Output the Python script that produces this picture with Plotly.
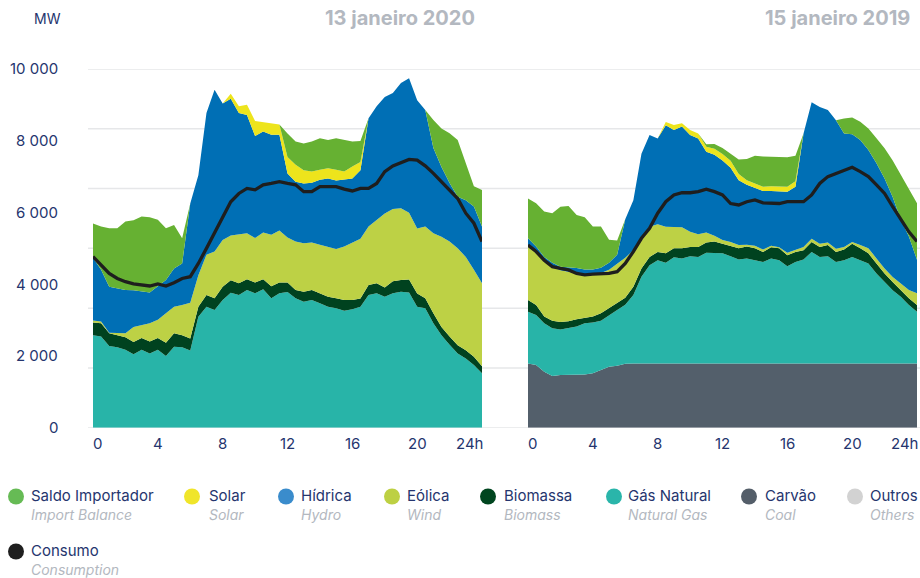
import plotly.graph_objects as go

# ---------------- data ----------------
hours = [0, 0.5, 1, 1.5, 2, 2.5, 3, 3.5, 4, 4.5, 5, 5.5, 6, 6.5, 7, 7.5, 8, 8.5, 9, 9.5,
         10, 10.5, 11, 11.5, 12, 12.5, 13, 13.5, 14, 14.5, 15, 15.5, 16, 16.5, 17, 17.5,
         18, 18.5, 19, 19.5, 20, 20.5, 21, 21.5, 22, 22.5, 23, 23.5, 24]

# 13 janeiro 2020 (MW)
gas_2020 = [2580, 2540, 2280, 2240, 2170, 2050, 2170, 2070, 2170, 2000,
            2260, 2240, 2150, 3090, 3370, 3280, 3560, 3760, 3700, 3840,
            3750, 3860, 3610, 3750, 3780, 3610, 3510, 3560, 3470, 3370,
            3330, 3260, 3300, 3370, 3700, 3750, 3650, 3750, 3790, 3770,
            3370, 3330, 2910, 2580, 2310, 2070, 1930, 1750, 1520]
biomass_2020 = [350, 370, 350, 340, 350, 340, 330, 330, 330, 370,
                370, 340, 340, 280, 330, 330, 370, 350, 330, 300,
                300, 280, 330, 300, 270, 230, 280, 280, 280, 280,
                280, 300, 260, 230, 280, 280, 260, 330, 330, 360,
                370, 280, 280, 230, 230, 230, 230, 230, 190]
wind_2020 = [60, 50, 20, 50, 110, 420, 350, 510, 510, 820,
             740, 840, 990, 880, 1120, 1300, 1300, 1250, 1350, 1280,
             1240, 1300, 1440, 1450, 1250, 1350, 1350, 1320, 1350, 1390,
             1370, 1490, 1600, 1670, 1630, 1770, 2060, 2020, 2000, 1860,
             1810, 2000, 2230, 2510, 2650, 2700, 2600, 2420, 2320]
hydro_2020 = [1750, 1440, 1280, 1260, 1210, 1020, 950, 860, 930, 930,
              1070, 1160, 2770, 2790, 3950, 4510, 3810, 3810, 3390, 3300,
              2840, 2820, 2790, 2670, 1790, 1670, 1670, 1670, 1810, 1910,
              1910, 1860, 1790, 1910, 3020, 3160, 3250, 3230, 3490, 3750,
              3580, 3250, 2380, 1950, 1630, 1440, 1580, 1770, 1580]
solar_2020 = [0, 0, 0, 0, 0, 0, 0, 0, 0, 0,
              0, 0, 0, 0, 0, 0, 0, 140, 190, 280,
              420, 250, 310, 280, 460, 470, 370, 310, 280, 280,
              300, 230, 330, 230, 0, 0, 0, 0, 0, 0,
              0, 0, 0, 0, 0, 0, 0, 0, 0]
import_2020 = [950, 1210, 1630, 1670, 1910, 1950, 2090, 2100, 1860, 1440,
               1210, 700, 0, 0, 0, 0, 0, 0, 0, 0,
               0, 0, 0, 0, 650, 650, 740, 840, 880, 790,
               880, 880, 700, 580, 0, 0, 0, 0, 0, 0,
               0, 0, 780, 1070, 1390, 1580, 1020, 560, 1020]
consumo_2020 = [4770, 4540, 4300, 4160, 4070, 4010, 3980, 3950, 4010, 3950,
                4040, 4160, 4210, 4580, 5000, 5420, 5880, 6300, 6530, 6670,
                6630, 6770, 6810, 6860, 6810, 6770, 6580, 6580, 6720, 6720,
                6720, 6650, 6600, 6670, 6670, 6810, 7140, 7300, 7390, 7480,
                7460, 7300, 7090, 6860, 6630, 6390, 5980, 5700, 5190]

# 15 janeiro 2019 (MW)
coal_2019 = [1790, 1750, 1560, 1440, 1470, 1470, 1470, 1480, 1520, 1610,
             1700, 1730, 1780, 1790, 1790, 1790, 1790, 1790, 1790, 1790,
             1790, 1790, 1790, 1790, 1790, 1790, 1790, 1790, 1790, 1790,
             1790, 1790, 1790, 1790, 1790, 1790, 1790, 1790, 1790, 1790,
             1790, 1790, 1790, 1790, 1790, 1790, 1790, 1790, 1790]
gas_2019 = [1440, 1390, 1350, 1330, 1270, 1300, 1350, 1430, 1410, 1370,
            1440, 1550, 1650, 1910, 2420, 2740, 2880, 2810, 2960, 2930,
            2990, 2970, 3090, 3090, 3070, 2990, 2900, 2930, 2880, 2830,
            2930, 2880, 2710, 2830, 2900, 3110, 2970, 2990, 2830, 2880,
            2970, 2880, 2790, 2510, 2280, 2040, 1860, 1630, 1440]
biomass_2019 = [330, 280, 190, 210, 210, 200, 200, 140, 170, 210,
                190, 190, 190, 230, 230, 230, 230, 260, 250, 280,
                260, 280, 280, 310, 260, 280, 310, 330, 330, 280,
                310, 330, 310, 280, 260, 280, 280, 310, 280, 300,
                370, 330, 280, 280, 230, 230, 190, 190, 190]
wind_2019 = [1530, 1490, 1580, 1510, 1440, 1380, 1280, 1210, 1160, 1120,
             1070, 1100, 1120, 1020, 880, 840, 770, 740, 600, 590,
             420, 350, 280, 160, 110, 120, 90, 50, 70, 70,
             40, 30, 70, 70, 90, 90, 90, 70, 90, 70,
             50, 90, 140, 140, 140, 140, 190, 230, 330]
hydro_2019 = [190, 140, 80, 110, 100, 130, 150, 150, 150, 150,
              200, 250, 1070, 1390, 2320, 2560, 2390, 2830, 2700, 2810,
              2700, 2670, 2250, 2260, 2220, 2070, 1810, 1670, 1610, 1630,
              1530, 1570, 1700, 1750, 3160, 3800, 3810, 3700, 3580, 3160,
              3000, 2930, 2740, 2650, 2510, 2230, 1770, 1490, 930]
solar_2019 = [0, 0, 0, 0, 0, 0, 0, 0, 0, 0,
              0, 0, 0, 0, 0, 0, 0, 90, 140, 90,
              140, 140, 140, 170, 180, 190, 170, 130, 120, 120,
              130, 120, 140, 150, 0, 0, 0, 0, 0, 0,
              0, 0, 0, 0, 0, 0, 0, 0, 0]
import_2019 = [1110, 1210, 1270, 1380, 1670, 1700, 1480, 1460, 1200, 1150,
               640, 400, 0, 0, 0, 0, 0, 0, 0, 0,
               0, 0, 70, 130, 170, 210, 410, 590, 780, 840,
               820, 810, 820, 710, 0, 0, 0, 0, 0, 420,
               470, 510, 600, 700, 840, 1020, 1250, 1350, 1580]
consumo_2019 = [5090, 4910, 4670, 4490, 4440, 4400, 4300, 4260, 4280, 4280,
                4300, 4350, 4580, 4910, 5280, 5560, 5980, 6300, 6490, 6550,
                6550, 6580, 6650, 6580, 6490, 6250, 6210, 6300, 6350, 6270,
                6270, 6250, 6300, 6300, 6300, 6490, 6810, 7000, 7090, 7180,
                7260, 7140, 7000, 6770, 6530, 6160, 5790, 5460, 5190]

x_tick_vals = [0, 4, 8, 12, 16, 20, 24]
x_tick_text = ["0", "4", "8", "12", "16", "20", "24h"]
y_tick_vals = [0, 2000, 4000, 6000, 8000, 10000]
y_tick_text = ["0", "2 000", "4 000", "6 000", "8 000", "10 000"]
grid_vals = [0, 10000 / 6, 20000 / 6, 30000 / 6, 40000 / 6, 50000 / 6, 10000]

chart_titles = ["13 janeiro 2020", "15 janeiro 2019"]
legend_names = ["Saldo Importador", "Solar", "Hídrica", "Eólica", "Biomassa",
                "Gás Natural", "Carvão", "Outros", "Consumo"]
legend_subs = ["Import Balance", "Solar", "Hydro", "Wind", "Biomass",
               "Natural Gas", "Coal", "Others", "Consumption"]

# ---------------- style ----------------
W, H = 920, 578
FONT = "Inter, Roboto, sans-serif"
NAVY = "#25356e"
GREY_T = "#b3b8c0"
area_colors = {"coal": "#535f6b", "gas": "#28b4a8", "biomass": "#00421f",
               "wind": "#bdd145", "hydro": "#006fb5", "solar": "#ede41c",
               "import": "#66b132"}
legend_colors = ["#66bb55", "#f0e52a", "#3a8ccc", "#bdd043", "#00451f",
                 "#2ab5aa", "#545e69", "#d2d2d2", "#1f1f1f"]


def px(x):
    return x / W


def py(y):
    return 1 - y / H


fig = go.Figure()

left = [("gas", gas_2020), ("biomass", biomass_2020), ("wind", wind_2020),
        ("hydro", hydro_2020), ("solar", solar_2020), ("import", import_2020)]
right = [("coal", coal_2019), ("gas", gas_2019), ("biomass", biomass_2019),
         ("wind", wind_2019), ("hydro", hydro_2019), ("solar", solar_2019),
         ("import", import_2019)]

for key, vals in left:
    fig.add_trace(go.Scatter(x=hours, y=vals, stackgroup="L", mode="lines",
                             line=dict(width=0), fillcolor=area_colors[key],
                             xaxis="x", yaxis="y", showlegend=False,
                             hoverinfo="skip"))
fig.add_trace(go.Scatter(x=hours, y=consumo_2020, mode="lines",
                         line=dict(color="#1e1e1e", width=3.3),
                         xaxis="x", yaxis="y", showlegend=False))
for key, vals in right:
    fig.add_trace(go.Scatter(x=hours, y=vals, stackgroup="R", mode="lines",
                             line=dict(width=0), fillcolor=area_colors[key],
                             xaxis="x2", yaxis="y2", showlegend=False,
                             hoverinfo="skip"))
fig.add_trace(go.Scatter(x=hours, y=consumo_2019, mode="lines",
                         line=dict(color="#1e1e1e", width=3.3),
                         xaxis="x2", yaxis="y2", showlegend=False))

YD = [py(427.7), py(69)]
axis_common = dict(showgrid=False, zeroline=False, showline=False,
                   showticklabels=False, ticks="", fixedrange=True)
fig.update_layout(
    width=W, height=H, margin=dict(l=0, r=0, t=0, b=0, pad=0),
    paper_bgcolor="white", plot_bgcolor="rgba(0,0,0,0)",
    font=dict(family=FONT, color=NAVY),
    xaxis=dict(domain=[px(93), px(482)], range=[0, 24], anchor="y", **axis_common),
    yaxis=dict(domain=YD, range=[0, 10000], anchor="x", **axis_common),
    xaxis2=dict(domain=[px(528), px(917)], range=[0, 24], anchor="y2", **axis_common),
    yaxis2=dict(domain=YD, range=[0, 10000], anchor="x2", **axis_common),
)

shapes = []
for g in grid_vals:
    shapes.append(dict(type="line", xref="paper", yref="y", x0=px(88), x1=1,
                       y0=g, y1=g, line=dict(color="#e6e7e9", width=1.5),
                       layer="below"))

ann = []
# axis labels
for v, t in zip(y_tick_vals, y_tick_text):
    ann.append(dict(text=t, xref="paper", yref="y", x=px(60), y=v,
                    xanchor="right", yanchor="middle", showarrow=False,
                    font=dict(size=15, color=NAVY)))
for axis in ["x", "x2"]:
    for v, t in zip(x_tick_vals, x_tick_text):
        shift = 4 if v == 0 else (-13 if v == 24 else 0)
        ann.append(dict(text=t, xref=axis, yref="paper", x=v, y=py(443),
                        xanchor="center", yanchor="middle", showarrow=False,
                        xshift=shift, font=dict(size=15, color=NAVY)))
ann.append(dict(text="MW", xref="paper", yref="paper", x=px(47), y=py(18),
                xanchor="center", yanchor="middle", showarrow=False,
                font=dict(size=14, color=NAVY)))
for t, xr in zip(chart_titles, [477, 912]):
    ann.append(dict(text="<b>" + t + "</b>", xref="paper", yref="paper",
                    x=px(xr), y=py(18), xanchor="right", yanchor="middle",
                    showarrow=False, font=dict(size=20, color=GREY_T)))

# legend (custom)
circle_x = [16, 192, 286, 392, 488, 614, 749, 855, 16]
text_x = [29, 207, 299, 405, 502, 626, 763, 868, 29]
row_y = [496.5, 496.5, 496.5, 496.5, 496.5, 496.5, 496.5, 496.5, 551.5]
for name, sub, col, cx, tx, ry in zip(legend_names, legend_subs, legend_colors,
                                      circle_x, text_x, row_y):
    r = 8
    shapes.append(dict(type="circle", xref="paper", yref="paper",
                       x0=px(cx - r), x1=px(cx + r), y0=py(ry + r), y1=py(ry - r),
                       fillcolor=col, line=dict(width=0)))
    ann.append(dict(text=name, xref="paper", yref="paper", x=px(tx), y=py(ry - 1),
                    xanchor="left", yanchor="middle", showarrow=False,
                    font=dict(size=15, color=NAVY)))
    ann.append(dict(text="<i>" + sub + "</i>", xref="paper", yref="paper",
                    x=px(tx), y=py(ry + 18), xanchor="left", yanchor="middle",
                    showarrow=False, font=dict(size=14, color=GREY_T)))

fig.update_layout(shapes=shapes, annotations=ann)
fig.write_html("out.html", config={"displayModeBar": False},
               post_script="document.body.style.margin='0px';"
                           "document.body.style.overflow='hidden';")
